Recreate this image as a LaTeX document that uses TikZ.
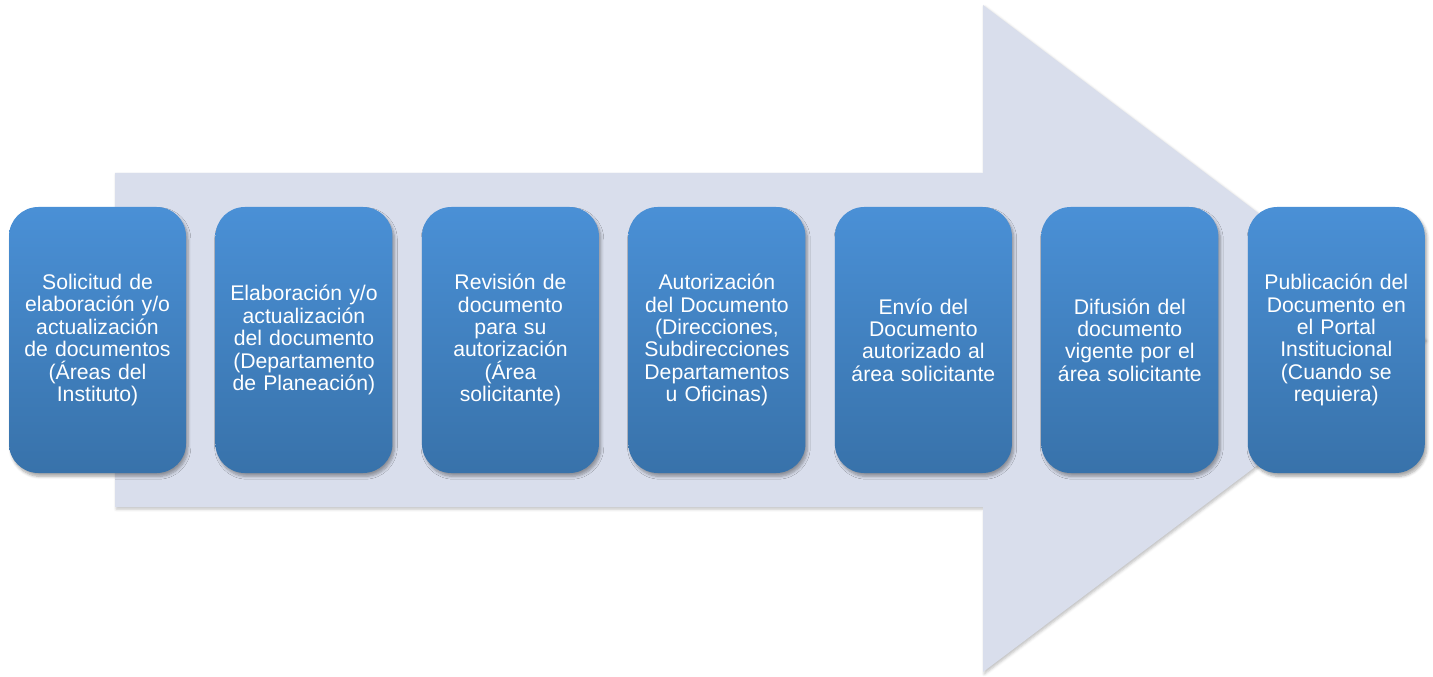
\documentclass[tikz,border=0pt]{standalone}
\usepackage{fontspec}
\setmainfont{Liberation Sans}
\usetikzlibrary{positioning,shadows.blur}

\definecolor{flecha}{RGB}{217,222,236}
\definecolor{azularriba}{RGB}{74,144,214}
\definecolor{azulabajo}{RGB}{56,114,170}

\tikzset{
  paso/.style={rectangle, rounded corners=22pt, inner sep=0pt,
    minimum width=132.75pt, minimum height=199.5pt,
    text width=130pt, align=center, text=white,
    top color=azularriba, bottom color=azulabajo,
    font=\fontsize{15.9}{16.8}\selectfont,
    blur shadow={shadow xshift=1.5pt, shadow yshift=-2.5pt,
      shadow blur steps=6, shadow opacity=35}},
  sombra/.style={blur shadow={shadow xshift=1pt, shadow yshift=-1.5pt,
      shadow blur steps=4, shadow opacity=25}}
}

\begin{document}
\begin{tikzpicture}[x=0.75pt, y=-0.75pt, node distance=21.7pt]

\useasboundingbox (0,0) rectangle (1433,677);

% flecha de fondo
\path[fill=flecha, sombra] (115,173) -- (983,173) -- (983,5) -- (1425,339)
  -- (983,672) -- (983,507) -- (115,507) -- cycle;

% pasos del proceso
\node[paso] (p1) at (97.5,340) {Solicitud de\\ elaboración y/o\\ actualización\\ de documentos\\ (Áreas del\\ Instituto)};
\node[paso, right=of p1] (p2) {Elaboración y/o\\ actualización\\ del documento\\ (Departamento\\ de Planeación)};
\node[paso, right=of p2] (p3) {Revisión de\\ documento\\ para su\\ autorización\\ (Área\\ solicitante)};
\node[paso, right=of p3] (p4) {Autorización\\ del Documento\\ (Direcciones,\\ Subdirecciones\\ Departamentos\\ u Oficinas)};
\node[paso, right=of p4] (p5) {Envío del\\ Documento\\ autorizado al\\ área solicitante};
\node[paso, right=of p5] (p6) {Difusión del\\ documento\\ vigente por el\\ área solicitante};
\node[paso, right=of p6] (p7) {Publicación del\\ Documento en\\ el Portal\\ Institucional\\ (Cuando se\\ requiera)};

\end{tikzpicture}
\end{document}
